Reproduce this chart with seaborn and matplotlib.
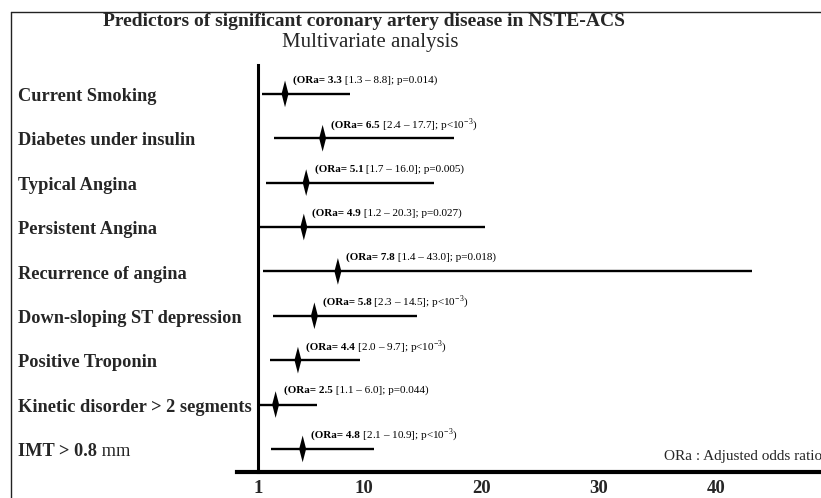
import matplotlib

matplotlib.use("Agg")

import numpy as np
import pandas as pd
import matplotlib.pyplot as plt
import seaborn as sns
from matplotlib.lines import Line2D
from matplotlib.path import Path
from matplotlib.offsetbox import AnnotationBbox, HPacker, TextArea
from matplotlib.transforms import blended_transform_factory

# ------------------------------------------------------------------
# Data
# ------------------------------------------------------------------
factors = [
    "Current Smoking",
    "Diabetes under insulin",
    "Typical Angina",
    "Persistent Angina",
    "Recurrence of angina",
    "Down-sloping ST depression",
    "Positive Troponin",
    "Kinetic disorder > 2 segments",
    "IMT > 0.8",
]
factor_suffix = ["", "", "", "", "", "", "", "", " mm"]
ora = [3.3, 6.5, 5.1, 4.9, 7.8, 5.8, 4.4, 2.5, 4.8]
ci_low = [1.3, 2.4, 1.7, 1.2, 1.4, 2.3, 2.0, 1.1, 2.1]
ci_high = [8.8, 17.7, 16.0, 20.3, 43.0, 14.5, 9.7, 6.0, 10.9]
p_text = ["p=0.014", "p<10$^{-3}$", "p=0.005", "p=0.027", "p=0.018",
          "p<10$^{-3}$", "p<10$^{-3}$", "p=0.044", "p<10$^{-3}$"]
x_ticks = [1, 10, 20, 30, 40]

df = pd.DataFrame({"factor": factors, "ora": ora,
                   "low": ci_low, "high": ci_high, "row": np.arange(len(factors))})

sns.set_theme(style="white")
plt.rcParams["font.family"] = ["Liberation Serif", "DejaVu Serif"]
plt.rcParams["mathtext.fontset"] = "custom"
plt.rcParams["mathtext.rm"] = "Liberation Serif"
plt.rcParams["mathtext.bf"] = "Liberation Serif:bold"

PX = 11.75  # pixels per odds-ratio unit
fig = plt.figure(figsize=(8.21, 4.98), dpi=100)
fig.patch.set_facecolor("white")
ax = fig.add_axes([237 / 821, 1 - 472 / 498, 1 - 237 / 821, (472 - 65) / 498])

# confidence interval bars
ax.hlines(df["row"], df["low"], df["high"], color="black", lw=1.7, zorder=2)

# thin vertical diamond for the point estimate
diamond = Path([(0, 1), (0.26, 0), (0, -1), (-0.26, 0), (0, 1)],
               [Path.MOVETO, Path.LINETO, Path.LINETO, Path.LINETO, Path.CLOSEPOLY])
sns.scatterplot(data=df, x="ora", y="row", marker=diamond, s=370,
                color="black", edgecolor="none", ax=ax, zorder=3, legend=False)

# ORa annotations: bold head + regular tail on a shared baseline
for i in range(len(factors)):
    head = TextArea(f"(ORa= {ora[i]}",
                    textprops=dict(fontsize=8, fontweight="bold", color="black"))
    tail = TextArea(f" [{ci_low[i]} \u2013 {ci_high[i]}]; {p_text[i]})",
                    textprops=dict(fontsize=8, color="black"))
    box = HPacker(children=[head, tail], align="baseline", pad=0, sep=0)
    ab = AnnotationBbox(box, (ora[i], i), xybox=(6, 10), boxcoords="offset points",
                        box_alignment=(0, 0.5), frameon=False, pad=0)
    ax.add_artist(ab)

ax.set_xlim(1 - 21 / PX, 1 + 563 / PX)
ax.set_ylim(8.52, -0.65)
ax.set_xticks(x_ticks)
ax.set_xticklabels([str(t) for t in x_ticks], fontsize=13.5, fontweight="bold")
ax.set_yticks([])
ax.tick_params(axis="x", length=0, pad=6)
ax.set_xlabel("")
ax.set_ylabel("")
for side in ["top", "right"]:
    ax.spines[side].set_visible(False)
ax.spines["left"].set_position(("data", 1))
ax.spines["left"].set_linewidth(2.2)
ax.spines["bottom"].set_linewidth(3)
for sp in ["left", "bottom"]:
    ax.spines[sp].set_color("black")

# factor labels at the left margin
lab_tr = blended_transform_factory(fig.transFigure, ax.transData)
for i, name in enumerate(factors):
    t = ax.text(18 / 821, i + 0.06, name, transform=lab_tr, ha="left", va="center",
                fontsize=13.2, fontweight="bold", clip_on=False)
    if factor_suffix[i]:
        ax.annotate(factor_suffix[i], xy=(1, 0), xycoords=t, ha="left",
                    va="bottom", fontsize=13.2, annotation_clip=False)

ax.text(664 / 821, 8.18, "ORa : Adjusted odds ratio", transform=lab_tr,
        ha="left", va="center", fontsize=11, clip_on=False)

fig.text(364 / 821, 1 - 22 / 498,
         "Predictors of significant coronary artery disease in NSTE-ACS",
         ha="center", va="center", fontsize=14, fontweight="bold")
fig.text(370 / 821, 1 - 42 / 498, "Multivariate analysis",
         ha="center", va="center", fontsize=15)

# thin frame on the top and left edges
fig.add_artist(Line2D([11 / 821, 1], [1 - 12 / 498] * 2, transform=fig.transFigure,
                      color="#222222", lw=1))
fig.add_artist(Line2D([11 / 821] * 2, [0, 1 - 12 / 498], transform=fig.transFigure,
                      color="#222222", lw=1))

fig.savefig("out.png", dpi=100)
plt.close(fig)
